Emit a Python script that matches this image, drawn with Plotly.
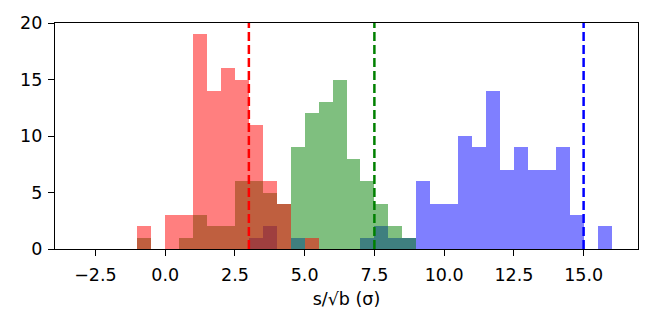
import plotly.graph_objects as go

# Histogram bin left edges (bin width 0.5)
bin_left = [-3.0, -2.5, -2.0, -1.5, -1.0, -0.5, 0.0, 0.5, 1.0, 1.5, 2.0, 2.5, 3.0, 3.5,
            4.0, 4.5, 5.0, 5.5, 6.0, 6.5, 7.0, 7.5, 8.0, 8.5, 9.0, 9.5, 10.0, 10.5,
            11.0, 11.5, 12.0, 12.5, 13.0, 13.5, 14.0, 14.5, 15.0, 15.5]
bin_width = 0.5

red_counts = [0, 0, 0, 0, 2, 0, 3, 3, 19, 14, 16, 15, 11, 6,
              4, 0, 1, 0, 0, 0, 0, 0, 0, 0, 0, 0, 0, 0,
              0, 0, 0, 0, 0, 0, 0, 0, 0, 0]
green_counts = [0, 0, 0, 0, 1, 0, 0, 1, 3, 2, 2, 6, 6, 5,
                4, 9, 12, 13, 15, 8, 6, 4, 2, 1, 0, 0, 0, 0,
                0, 0, 0, 0, 0, 0, 0, 0, 0, 0]
blue_counts = [0, 0, 0, 0, 0, 0, 0, 0, 0, 0, 0, 0, 1, 2,
               0, 1, 0, 0, 0, 0, 1, 2, 1, 1, 6, 4, 4, 10,
               9, 14, 7, 9, 7, 7, 9, 3, 0, 2]

line_positions = [3.0, 7.5, 15.0]
line_colors = ["#ff0000", "#008000", "#0000ff"]

x_tickvals = [-2.5, 0.0, 2.5, 5.0, 7.5, 10.0, 12.5, 15.0]
x_ticktext = ["\u22122.5", "0.0", "2.5", "5.0", "7.5", "10.0", "12.5", "15.0"]
y_tickvals = [0, 5, 10, 15, 20]
y_ticktext = ["0", "5", "10", "15", "20"]

centers = [b + bin_width / 2 for b in bin_left]

fig = go.Figure()
# draw order: blue, green, red (as in the reference's overlap colours)
for counts, col in [(blue_counts, "rgba(0,0,255,0.5)"),
                    (green_counts, "rgba(0,128,0,0.5)"),
                    (red_counts, "rgba(255,0,0,0.5)")]:
    fig.add_trace(go.Bar(x=centers, y=counts, width=bin_width,
                         marker=dict(color=col, line=dict(width=0)),
                         showlegend=False, hoverinfo="skip"))

for xv, col in zip(line_positions, line_colors):
    fig.add_shape(type="line", xref="x", yref="paper", x0=xv, x1=xv, y0=0, y1=1,
                  line=dict(color=col, width=2.5, dash="9px,4px"), layer="above")

font = dict(family="DejaVu Sans", size=17.5, color="black")
fig.update_layout(
    width=660, height=329,
    margin=dict(l=55, r=22, t=23, b=80),
    paper_bgcolor="white", plot_bgcolor="white",
    barmode="overlay", bargap=0,
    font=font,
    xaxis=dict(range=[-3.95, 16.95], tickvals=x_tickvals, ticktext=x_ticktext,
               showgrid=False, zeroline=False, showline=True, mirror=True,
               linecolor="black", linewidth=1.3, ticks="outside", ticklen=6,
               tickwidth=1.3, tickcolor="black", tickfont=font,
               ticklabelstandoff=4,
               title=dict(text="s/\u221ab (\u03c3)", font=font, standoff=8)),
    yaxis=dict(range=[0, 20], tickvals=y_tickvals, ticktext=y_ticktext,
               showgrid=False, zeroline=False, showline=True, mirror=True,
               linecolor="black", linewidth=1.3, ticks="outside", ticklen=6,
               tickwidth=1.3, tickcolor="black", tickfont=font,
               ticklabelstandoff=2),
)

fig.write_html("out.html")
